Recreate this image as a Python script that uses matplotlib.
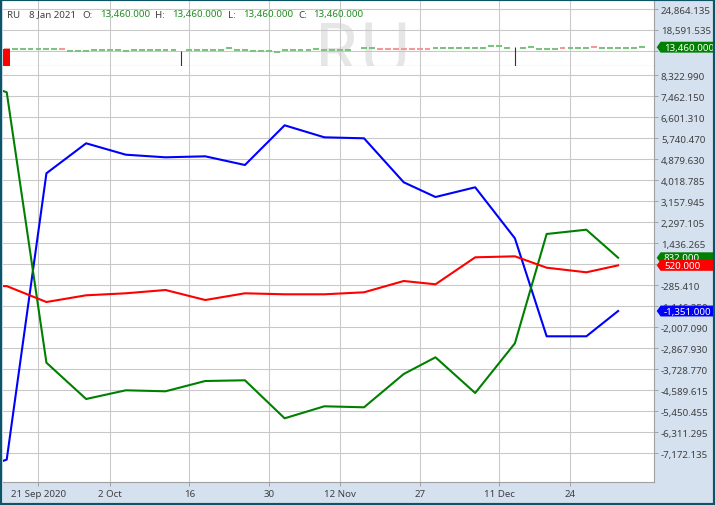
import numpy as np
import matplotlib.pyplot as plt
from matplotlib.path import Path
from matplotlib.patches import Rectangle

plt.rcParams['font.family'] = ['Noto Sans', 'DejaVu Sans']

STRIP = '#d5e1ef'
BORDER = '#0d5467'
GRID = '#c8c8c8'
SPINE = '#a0a0a0'
TXT = '#404040'

# trading calendar used for the x axis (weekends + holidays are skipped)
HOLIDAYS = ['2020-09-07', '2020-11-26', '2020-12-25', '2021-01-01']
ANCHOR = '2020-09-21'

# weekly positions
week_dates = ['2020-09-08', '2020-09-15', '2020-09-22', '2020-09-29', '2020-10-06',
              '2020-10-13', '2020-10-20', '2020-10-27', '2020-11-03', '2020-11-10',
              '2020-11-17', '2020-11-24', '2020-12-01', '2020-12-08', '2020-12-15',
              '2020-12-21', '2020-12-29', '2021-01-05']
blue_vals = [-8030, -7440, 4294, 5523, 5056, 4949, 4990, 4634, 6261, 5769,
             5728, 3925, 3322, 3720, 1629, -2388, -2388, -1351]
red_vals = [-335, -330, -982, -707, -625, -490, -900, -625, -666, -666,
            -584, -121, -256, 850, 891, 424, 236, 520]
green_vals = [8190, 7614, -3470, -4958, -4601, -4642, -4220, -4191, -5749, -5257,
              -5298, -3933, -3249, -4712, -2675, 1806, 1982, 832]

# daily price strip (top panel), one value per session from 15 Sep 2020
first_day = '2020-09-15'
nan = np.nan
day_close = [12952, 12952, 12952, 12952, 12952, 12952, 12952, 12952, 12444, 12444,
             12444, 12653, 12653, 12653, 12653, 12355, 12653, 12653, 12653, 12653,
             12653, 12653, nan, 12743, 12743, 12743, 12743, 12743, 13161, 12743,
             12743, 12355, 12355, 12355, 12146, 12564, 12564, 12564, 12564, 12952,
             12653, 12653, 12653, 12653, nan, 13161, 13161, 12952, 12952, 12952,
             12952, 12952, 12952, 12952, 13161, 13161, 13161, 13161, 13161, 13161,
             13161, 13759, 13759, 13340, nan, 13340, 13639, 12952, 12952, 12952,
             13250, 13250, 13250, 13250, 13639, 13250, 13250, 13250, 13250, 13250,
             13460]
red_days = [0, 7, 47, 48, 49, 50, 51, 52, 53, 70, 74]
tall_bar_low = 6000
wick_days = [22, 64]
wick_top = [12444, 13460]
wick_low = 6000

symbol = 'RU'
last_date = '8 Jan 2021'
last_ohlc = [13460.0, 13460.0, 13460.0, 13460.0]

tick_dates = ['2020-09-21', '2020-10-02', '2020-10-16', '2020-10-30',
              '2020-11-12', '2020-11-27', '2020-12-11', '2020-12-24']
tick_names = ['21 Sep 2020', '2 Oct', '16', '30', '12 Nov', '27', '11 Dec', '24']

main_ticks = [8322.990, 7462.150, 6601.310, 5740.470, 4879.630, 4018.785, 3157.945,
              2297.105, 1436.265, 575.425, -285.410, -1146.250, -2007.090, -2867.930,
              -3728.770, -4589.615, -5450.455, -6311.295, -7172.135]
top_ticks = [24864.135, 18591.535, 12318.935]
top_tick_labels = ['24,864.135', '18,591.535', '']   # last one sits under the price tag


def bday(dates):
    return np.busday_count(ANCHOR, np.array(dates, dtype='datetime64[D]'), holidays=HOLIDAYS)


def tag_shape(x0, y0, width, height, mutation_size):
    m = mutation_size
    ym = y0 + height / 2
    half = 0.56 * m
    left = x0 - 0.35 * m
    tip = 0.4 * m
    right = left + 200
    verts = [(left - tip, ym), (left, ym + half), (right, ym + half),
             (right, ym - half), (left, ym - half), (left - tip, ym)]
    return Path(verts, closed=True)


def price_tag(axis, value, color):
    axis.annotate(f'{value:,.3f}', xy=(1, value), xycoords=('axes fraction', 'data'),
                  xytext=(7.2, 0), textcoords='offset points', ha='left', va='center',
                  fontsize=7, color='white', annotation_clip=False, zorder=10,
                  bbox=dict(boxstyle=tag_shape, fc=color, ec='none'))


W, H = 715, 506
fig = plt.figure(figsize=(W / 100, H / 100), dpi=100, facecolor=STRIP)


def px_axes(x0, y0, x1, y1, **kw):
    return fig.add_axes([x0 / W, 1 - y1 / H, (x1 - x0) / W, (y1 - y0) / H], **kw)


ax_top = px_axes(3, 2, 654, 67)
ax = px_axes(3, 67, 654, 483, sharex=ax_top)

wx = bday(week_dates)
ax.plot(wx, blue_vals, color='#0000ff', lw=1.5)
ax.plot(wx, green_vals, color='#008000', lw=1.5)
ax.plot(wx, red_vals, color='#ff0000', lw=1.5)

# top panel
dx = bday([first_day])[0] + np.arange(len(day_close))
dc = np.array(day_close, dtype=float)
cols = np.array(['#7fc17f'] * len(dc), dtype=object)
cols[red_days] = '#f29a9a'
ok = ~np.isnan(dc)
ax_top.hlines(dc[ok], dx[ok] - 0.37, dx[ok] + 0.37, colors=list(cols[ok]), lw=1.5, zorder=3)
ax_top.bar(dx[0], dc[0] - tall_bar_low, bottom=tall_bar_low, width=0.85, color='#ff0000', zorder=3)
ax_top.vlines(dx[wick_days], wick_low, wick_top, color='#333333', lw=0.8, zorder=3)
ax_top.text(0.553, -0.125, symbol, transform=ax_top.transAxes, fontsize=52, color='#e6e6e6',
            ha='center', va='baseline', zorder=0, clip_on=True)

ax.set_xlim(-4.47, 77.52)
ax.set_ylim(-8360, 8692)
ax_top.set_ylim(7838, 27254)

ax.set_xticks(bday(tick_dates), labels=tick_names)
ax.set_yticks(main_ticks, labels=[f'{v:,.3f}' for v in main_ticks])
ax_top.set_yticks(top_ticks, labels=top_tick_labels)

for a in (ax, ax_top):
    a.set_facecolor('white')
    a.set_axisbelow(True)
    a.grid(True, color=GRID, lw=0.75)
    a.yaxis.tick_right()
    a.tick_params(axis='y', length=3, width=0.7, color=SPINE, pad=2,
                  labelsize=7, labelcolor=TXT)
    a.spines['left'].set_visible(False)
    a.spines['top'].set_visible(False)
    a.spines['right'].set_color(SPINE)
    a.spines['bottom'].set_color(SPINE)
ax.tick_params(axis='x', length=3, width=0.7, color=SPINE, pad=2, labelsize=7, labelcolor=TXT)
ax_top.tick_params(axis='x', length=0, labelbottom=False)

price_tag(ax_top, last_ohlc[3], '#008000')
price_tag(ax, green_vals[-1], '#008000')
price_tag(ax, red_vals[-1], '#ff0000')
price_tag(ax, blue_vals[-1], '#0000ff')

# header line
header = [(symbol, 7, TXT), (last_date, 29, TXT),
          ('O:', 82, TXT), (f'{last_ohlc[0]:,.3f}', 100, '#228b22'),
          ('H:', 155, TXT), (f'{last_ohlc[1]:,.3f}', 172, '#228b22'),
          ('L:', 228, TXT), (f'{last_ohlc[2]:,.3f}', 243, '#228b22'),
          ('C:', 298, TXT), (f'{last_ohlc[3]:,.3f}', 313, '#228b22')]
for s, x, c in header:
    fig.text(x / W, 1 - 15 / H, s, fontsize=7, color=c, ha='left', va='center')

fig.add_artist(Rectangle((0, 0), 1, 1, transform=fig.transFigure, fill=False,
                         ec=BORDER, lw=3, zorder=20))

fig.savefig('out.png', dpi=100, facecolor=fig.get_facecolor())
